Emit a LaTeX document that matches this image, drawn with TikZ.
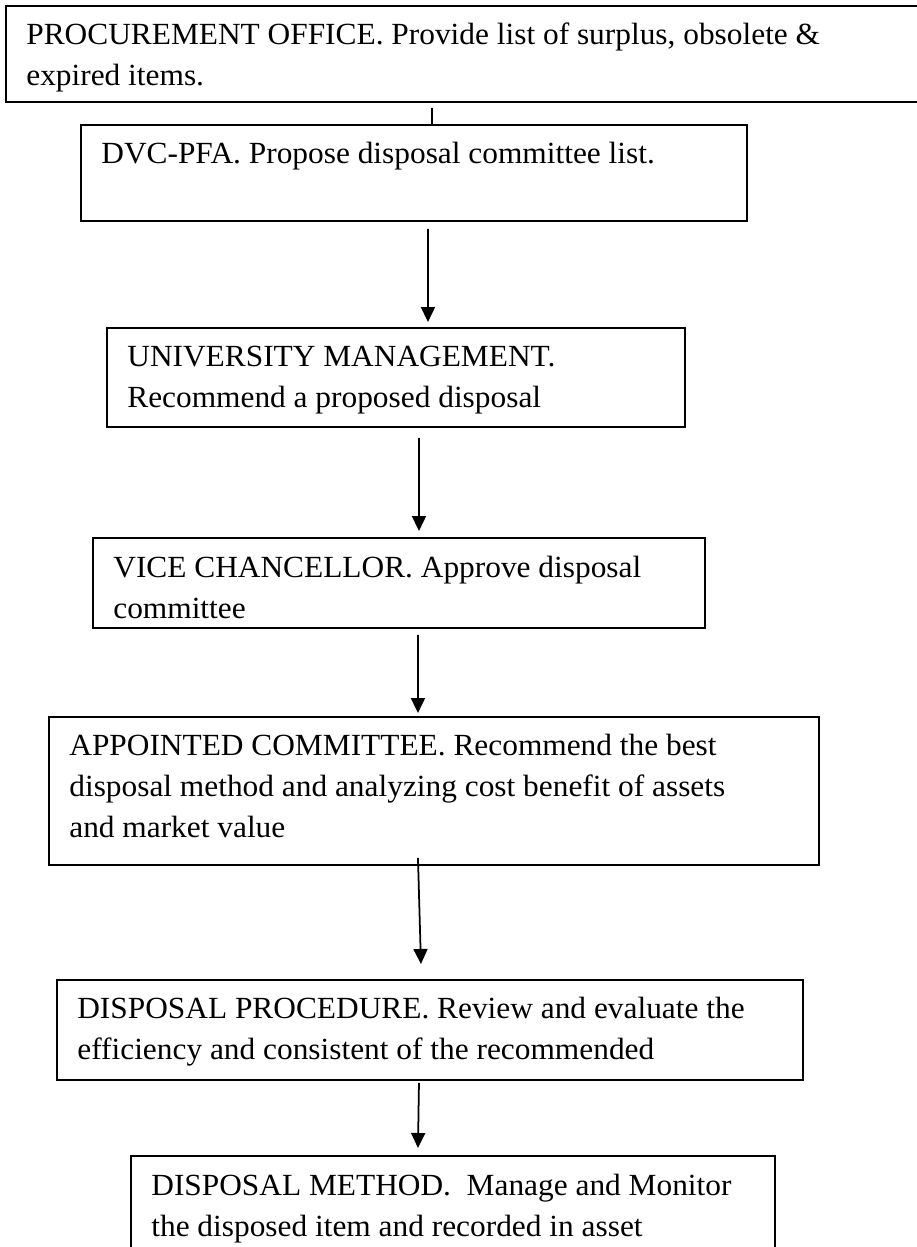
\documentclass[tikz,border=0pt]{standalone}
\usepackage{fontspec}
\setmainfont{Liberation Serif}[FakeStretch=1.02]
\usetikzlibrary{arrows.meta}

\tikzset{
  flowbox/.style={draw, line width=1.1pt, anchor=north west, inner sep=0pt},
  flowtext/.style={anchor=base west, inner sep=0pt, font=\fontsize{17.5}{23.6}\selectfont},
  flowarrow/.style={line width=1pt, -{Triangle[length=0.3cm,width=0.28cm]}},
}

\begin{document}
\begin{tikzpicture}

\useasboundingbox (0,0) rectangle (18.34,-24.94);

% boxes
\node[flowbox, minimum width=18.4cm, minimum height=1.92cm] (proc) at (0.1,-0.1) {};
\node[flowbox, minimum width=13.32cm, minimum height=1.92cm] (dvc) at (1.6,-2.48) {};
\node[flowbox, minimum width=11.56cm, minimum height=1.98cm] (mgmt) at (2.12,-6.54) {};
\node[flowbox, minimum width=12.24cm, minimum height=1.8cm] (vc) at (1.84,-10.74) {};
\node[flowbox, minimum width=15.4cm, minimum height=2.96cm] (comm) at (0.96,-14.32) {};
\node[flowbox, minimum width=14.92cm, minimum height=2cm] (proced) at (1.12,-19.58) {};
\node[flowbox, minimum width=12.88cm, minimum height=2.7cm] (method) at (2.6,-23.1) {};

% texts
\node[flowtext] (proc-t) at ([xshift=0.42cm,yshift=-0.78cm]proc.north west)
  {\parbox[t]{18cm}{\raggedright PROCUREMENT OFFICE. Provide list of surplus, obsolete \&\\expired items.}};
\node[flowtext] (dvc-t) at ([xshift=0.42cm,yshift=-0.78cm]dvc.north west)
  {\parbox[t]{18cm}{\raggedright DVC-PFA. Propose disposal committee list.}};
\node[flowtext] (mgmt-t) at ([xshift=0.42cm,yshift=-0.78cm]mgmt.north west)
  {\parbox[t]{18cm}{\raggedright UNIVERSITY MANAGEMENT.\\Recommend a proposed disposal}};
\node[flowtext] (vc-t) at ([xshift=0.42cm,yshift=-0.8cm]vc.north west)
  {\parbox[t]{18cm}{\raggedright VICE CHANCELLOR. Approve disposal\\committee}};
\node[flowtext] (comm-t) at ([xshift=0.42cm,yshift=-0.78cm]comm.north west)
  {\parbox[t]{18cm}{\raggedright APPOINTED COMMITTEE. Recommend the best\\disposal method and analyzing cost benefit of assets\\and market value}};
\node[flowtext] (proced-t) at ([xshift=0.42cm,yshift=-0.78cm]proced.north west)
  {\parbox[t]{18cm}{\raggedright DISPOSAL PROCEDURE. Review and evaluate the\\efficiency and consistent of the recommended}};
\node[flowtext] (method-t) at ([xshift=0.42cm,yshift=-0.8cm]method.north west)
  {\parbox[t]{18cm}{\raggedright DISPOSAL METHOD.\ \ Manage and Monitor\\the disposed item and recorded in asset}};

% connectors
\draw[line width=1pt] ([xshift=-0.68cm,yshift=-0.1cm]proc.south) -- ([xshift=0.36cm]dvc.north);
\draw[flowarrow] ([xshift=0.28cm,yshift=-0.14cm]dvc.south) -- ([xshift=0.64cm,yshift=0.1cm]mgmt.north);
\draw[flowarrow] ([xshift=0.46cm,yshift=-0.2cm]mgmt.south) -- ([xshift=0.4cm,yshift=0.12cm]vc.north);
\draw[flowarrow] ([xshift=0.38cm,yshift=-0.12cm]vc.south) -- ([xshift=-0.32cm,yshift=0.06cm]comm.north);
\draw[flowarrow] ([xshift=-0.32cm,yshift=0.16cm]comm.south) -- ([xshift=-0.18cm,yshift=0.3cm]proced.north);
\draw[flowarrow] ([xshift=-0.22cm,yshift=-0.04cm]proced.south) -- ([xshift=-0.7cm,yshift=0.14cm]method.north);

\end{tikzpicture}
\end{document}
